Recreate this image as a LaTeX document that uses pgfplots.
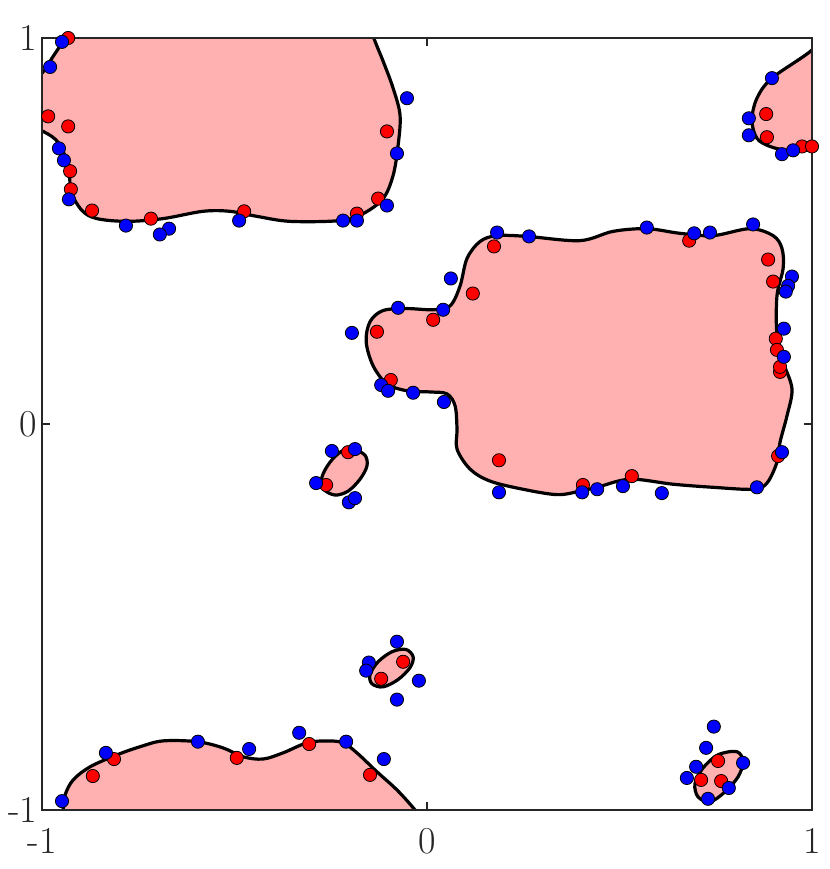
\documentclass[border=0pt]{standalone}
\usepackage{pgfplots}
\pgfplotsset{compat=1.18}
\definecolor{regfill}{RGB}{255,176,176}
\definecolor{axgray}{RGB}{38,38,38}
\begin{document}
\begin{tikzpicture}
\begin{axis}[
    scale only axis,
    width=385pt, height=386pt,
    xmin=-1, xmax=1, ymin=-1, ymax=1,
    xtick={-1,0,1}, ytick={-1,0,1},
    xticklabels={-1,0,1}, yticklabels={-1,0,1},
    tick align=inside,
    major tick length=4pt,
    axis line style={axgray, line width=0.6pt},
    tick style={axgray, line width=0.6pt},
    ticklabel style={font=\fontsize{19}{22}\selectfont, text=axgray},
    xticklabel style={yshift=-5.5pt},
    yticklabel style={xshift=1pt},
    axis on top,
    region/.style={draw=black, line width=1.6pt, fill=regfill, smooth cycle, tension=0.55},
    pts/.style={only marks, mark=*, mark size=3.3pt, mark options={draw=black, line width=1.3pt}},
]
% decision regions
\addplot[region] coordinates {
    (-0.901,1.078) (-0.935,1.005) (-0.948,0.987) (-0.974,0.948) (-1.0,0.909)
    (-1.057,0.870) (-1.057,0.779) (-0.997,0.758) (-0.956,0.727) (-0.930,0.662)
    (-0.925,0.603) (-0.896,0.553) (-0.857,0.532) (-0.779,0.525) (-0.686,0.532)
    (-0.582,0.551) (-0.512,0.551) (-0.442,0.538) (-0.356,0.525) (-0.226,0.527)
    (-0.166,0.545) (-0.114,0.584) (-0.088,0.644) (-0.075,0.722) (-0.070,0.800)
    (-0.088,0.870) (-0.114,0.940) (-0.140,1.005) (-0.161,1.078) (-0.5,1.1)
};
\addplot[region] coordinates {
    (1.047,1.03) (1.0,0.969) (0.896,0.896) (0.857,0.844) (0.844,0.787)
    (0.857,0.740) (0.891,0.719) (0.935,0.709) (0.987,0.709) (1.047,0.714)
    (1.099,0.844)
};
\addplot[region] coordinates {
    (0.182,0.488) (0.138,0.473) (0.104,0.429) (0.086,0.358) (0.060,0.306)
    (0.016,0.296) (-0.052,0.299) (-0.114,0.294) (-0.148,0.265) (-0.158,0.213)
    (-0.140,0.151) (-0.104,0.104) (-0.052,0.086) (0.008,0.083) (0.052,0.078)
    (0.073,0.047) (0.078,-0.013) (0.078,-0.065) (0.112,-0.117) (0.164,-0.148)
    (0.249,-0.169) (0.338,-0.183) (0.397,-0.174) (0.442,-0.164) (0.527,-0.143)
    (0.639,-0.156) (0.743,-0.164) (0.847,-0.169) (0.883,-0.153) (0.909,-0.099)
    (0.917,-0.047) (0.935,0.021) (0.948,0.091) (0.925,0.161) (0.909,0.229)
    (0.909,0.332) (0.925,0.403) (0.922,0.455) (0.899,0.488) (0.839,0.506)
    (0.743,0.488) (0.657,0.494) (0.571,0.506) (0.483,0.499) (0.397,0.475)
    (0.260,0.486)
};
\addplot[region] coordinates {
    (-0.192,-0.065) (-0.161,-0.081) (-0.156,-0.109) (-0.174,-0.143) (-0.205,-0.174)
    (-0.239,-0.184) (-0.268,-0.169) (-0.273,-0.138) (-0.252,-0.099) (-0.221,-0.070)
};
\addplot[region] coordinates {
    (-0.036,-0.603) (-0.044,-0.631) (-0.075,-0.662) (-0.114,-0.681) (-0.143,-0.673)
    (-0.148,-0.649) (-0.127,-0.616) (-0.091,-0.590) (-0.055,-0.584)
};
\addplot[region] coordinates {
    (0.805,-0.849) (0.821,-0.875) (0.808,-0.914) (0.774,-0.953) (0.735,-0.979)
    (0.704,-0.966) (0.696,-0.932) (0.717,-0.891) (0.756,-0.857)
};
\addplot[region] coordinates {
    (-0.953,-1.052) (-0.945,-1.0) (-0.940,-0.961) (-0.919,-0.922) (-0.875,-0.888)
    (-0.805,-0.857) (-0.745,-0.836) (-0.686,-0.821) (-0.597,-0.823) (-0.530,-0.839)
    (-0.478,-0.862) (-0.426,-0.868) (-0.374,-0.852) (-0.312,-0.826) (-0.260,-0.821)
    (-0.218,-0.826) (-0.182,-0.852) (-0.130,-0.901) (-0.078,-0.948) (-0.031,-1.0)
    (0.008,-1.052) (-0.1,-1.12) (-0.8,-1.12)
};
% class +1 samples
\addplot[pts, mark options={fill=red}] coordinates {
    (-0.932,1.0) (-0.984,0.797) (-0.932,0.771) (-0.927,0.655) (-0.925,0.608)
    (-0.870,0.553) (-0.717,0.532) (-0.475,0.551) (-0.182,0.545) (-0.127,0.584)
    (-0.104,0.758)
    (0.881,0.803) (0.883,0.743) (0.974,0.719) (1.0,0.719)
    (0.174,0.460) (0.119,0.338) (0.016,0.270) (-0.130,0.239) (-0.094,0.114)
    (0.681,0.475) (0.886,0.426) (0.899,0.369) (0.906,0.221) (0.909,0.192)
    (0.917,0.135) (0.917,0.148) (0.912,-0.083) (0.532,-0.135) (0.405,-0.158)
    (0.187,-0.094)
    (-0.205,-0.073) (-0.262,-0.158)
    (-0.062,-0.616) (-0.119,-0.660)
    (0.756,-0.873) (0.712,-0.922) (0.764,-0.925)
    (-0.868,-0.912) (-0.813,-0.868) (-0.494,-0.865) (-0.306,-0.829) (-0.148,-0.909)
};
% class -1 samples
\addplot[pts, mark options={fill=blue}] coordinates {
    (-0.948,0.990) (-0.979,0.925) (-0.956,0.714) (-0.943,0.683) (-0.930,0.582)
    (-0.782,0.514) (-0.670,0.506) (-0.694,0.491) (-0.488,0.527) (-0.218,0.527)
    (-0.182,0.527) (-0.104,0.566) (-0.052,0.844) (-0.078,0.701)
    (0.896,0.896) (0.836,0.792) (0.836,0.748) (0.922,0.699) (0.951,0.709)
    (0.182,0.496) (0.265,0.486) (0.062,0.377) (-0.075,0.301) (0.042,0.296)
    (-0.195,0.236) (-0.119,0.101) (-0.101,0.086) (-0.036,0.081) (0.044,0.057)
    (0.571,0.509) (0.694,0.494) (0.735,0.496) (0.847,0.517) (0.948,0.382)
    (0.938,0.358) (0.932,0.343) (0.927,0.247) (0.927,0.174) (0.922,-0.073)
    (0.509,-0.161) (0.610,-0.179) (0.857,-0.164) (0.442,-0.169) (0.403,-0.177)
    (0.187,-0.177)
    (-0.247,-0.070) (-0.187,-0.065) (-0.288,-0.153) (-0.203,-0.203) (-0.187,-0.192)
    (-0.078,-0.564) (-0.151,-0.618) (-0.158,-0.639) (-0.021,-0.665) (-0.078,-0.714)
    (0.745,-0.784) (0.725,-0.839) (0.699,-0.888) (0.675,-0.917) (0.821,-0.878)
    (0.784,-0.943) (0.730,-0.971)
    (-0.948,-0.977) (-0.834,-0.852) (-0.595,-0.823) (-0.462,-0.842) (-0.332,-0.800)
    (-0.210,-0.823) (-0.112,-0.868)
};
\end{axis}
\path ([shift={(-21pt,-29.5pt)}]current axis.south west) rectangle ([shift={(9pt,19pt)}]current axis.north east);
\end{tikzpicture}
\end{document}
